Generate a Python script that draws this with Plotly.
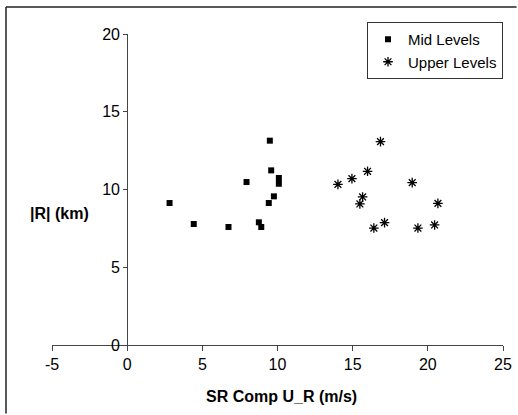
import plotly.graph_objects as go

mid_x = [2.82, 4.43, 6.74, 7.94, 8.76, 8.92, 9.49, 9.42, 9.58, 9.76, 10.09, 10.09]
mid_y = [9.13, 7.78, 7.59, 10.48, 7.89, 7.59, 13.14, 9.13, 11.23, 9.56, 10.74, 10.37]
up_x = [14.02, 14.95, 15.99, 16.85, 15.66, 15.48, 16.41, 17.12, 18.96, 20.67, 19.34, 20.45]
up_y = [10.33, 10.70, 11.17, 13.08, 9.52, 9.07, 7.52, 7.87, 10.44, 9.11, 7.52, 7.72]

x_ticks = [-5, 0, 5, 10, 15, 20, 25]
x_tick_text = ["-5", "0", "5", "10", "15", "20", "25"]
y_ticks = [0, 5, 10, 15, 20]

FONT = "Liberation Sans, Arial, sans-serif"

fig = go.Figure()
fig.add_trace(go.Scatter(x=mid_x, y=mid_y, mode="markers", name="Mid Levels",
                         legendgroup="a",
                         marker=dict(symbol="square", size=6, color="black")))
fig.add_trace(go.Scatter(x=up_x, y=up_y, mode="markers", name="Upper Levels",
                         legendgroup="b",
                         marker=dict(symbol="asterisk-open", size=8, color="black",
                                     line=dict(color="black", width=1.3))))

fig.update_layout(
    width=518, height=415,
    margin=dict(l=52, r=15, t=34, b=70, autoexpand=False),
    paper_bgcolor="white", plot_bgcolor="white",
    font=dict(family=FONT, size=16, color="black"),
    xaxis=dict(range=[-5, 25], tickvals=x_ticks, ticktext=x_tick_text,
               showgrid=False, zeroline=False, automargin=False,
               showline=True, linecolor="#444", linewidth=1,
               ticks="outside", ticklen=5, tickcolor="#444",
               tickfont=dict(size=16)),
    yaxis=dict(range=[0, 20], tickvals=y_ticks, showgrid=False, zeroline=False,
               automargin=False,
               showline=True, linecolor="#444", linewidth=1,
               ticks="outside", ticklen=4, tickcolor="#444",
               anchor="free", position=1/6,
               tickfont=dict(size=16)),
    showlegend=True,
    legend=dict(x=1.0, xanchor="right", y=1.0386, yanchor="top",
                bordercolor="#333", borderwidth=1, bgcolor="white",
                font=dict(size=15), traceorder="grouped", tracegroupgap=0,
                itemwidth=30),
    annotations=[
        dict(text="<b>SR Comp U_R (m/s)</b>", xref="paper", yref="paper",
             x=0.508, y=-0.167, showarrow=False, font=dict(size=16),
             xanchor="center", yanchor="middle"),
        dict(text="<b>|R| (km)</b>", xref="paper", yref="paper",
             x=0.0177, y=0.4244, showarrow=False, font=dict(size=16),
             xanchor="center", yanchor="middle"),
    ],
    shapes=[
        dict(type="line", xref="paper", yref="paper",
             x0=-0.102, x1=1.03, y0=1.0868, y1=1.0868,
             line=dict(color="#222", width=1.5)),
        dict(type="line", xref="paper", yref="paper",
             x0=-0.102, x1=-0.102, y0=-0.22, y1=1.0868,
             line=dict(color="#222", width=1.5)),
    ],
)

fig.write_html("out.html")
